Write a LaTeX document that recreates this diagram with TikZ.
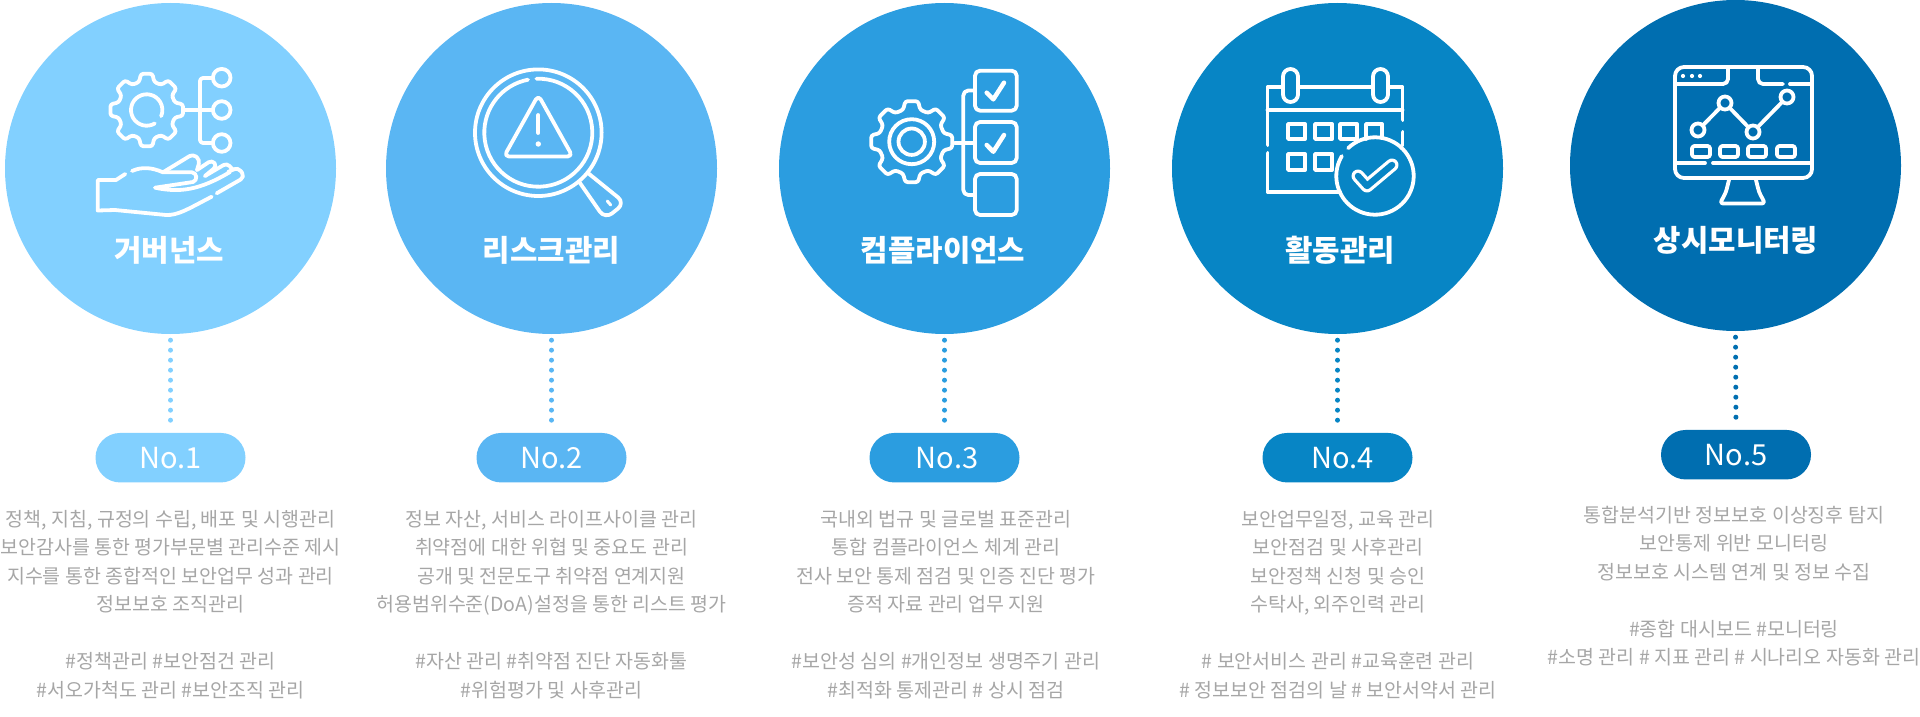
\documentclass[tikz,border=0pt]{standalone}
\usepackage{fontspec}
\setmainfont{Noto Sans CJK KR}
\usepackage{tikz}

\definecolor{colA}{HTML}{82D0FF}
\definecolor{colB}{HTML}{5AB6F3}
\definecolor{colC}{HTML}{2B9DE0}
\definecolor{colD}{HTML}{0785C5}
\definecolor{colE}{HTML}{006EB0}
\definecolor{bodygray}{HTML}{A6A6A6}

\tikzset{
	disc/.style={circle, fill=#1, minimum size=331pt, inner sep=0pt},
	pill/.style={fill=#1, rounded corners=24.7pt, minimum width=150pt, minimum height=49.5pt, inner sep=0pt, text=white, font=\fontsize{29}{34}\selectfont},
	heading/.style={text=white, font=\fontsize{29.8}{35}\selectfont\bfseries},
	body/.style={text=bodygray, align=center, font=\fontsize{19.5}{28.5}\selectfont},
	dots/.style={#1, line width=5pt, line cap=round, dash pattern=on 0pt off 10pt, shorten <=6pt, shorten >=11pt},
	icon/.style={white, line width=3.8pt, line cap=round, line join=round},
}

\newcommand{\gearshape}[2]{(-22.5:#2) foreach \a in {0,45,...,315} { -- (\a-15:#2) -- (\a-9:#1) -- (\a+9:#1) -- (\a+15:#2) } -- cycle}

\begin{document}
\begin{tikzpicture}[x=1pt, y=-1pt]
	\useasboundingbox (0,0) rectangle (1920,717);

	\node[disc=colA] (discA) at (170.5,168.5) {};
	\node[disc=colB] (discB) at (551.5,168.5) {};
	\node[disc=colC] (discC) at (944.5,168.5) {};
	\node[disc=colD] (discD) at (1337.5,168.5) {};
	\node[disc=colE] (discE) at (1735.5,165.5) {};

	\node[heading] (headA) at (169,250) {거버넌스};
	\node[heading] (headB) at (551.5,250) {리스크관리};
	\node[heading] (headC) at (943,250) {컴플라이언스};
	\node[heading] (headD) at (1340,250) {활동관리};
	\node[heading] (headE) at (1736,240) {상시모니터링};

	\node[pill=colA] (pillA) at (170.5,457.7) {No.1};
	\node[pill=colB] (pillB) at (551.5,457.7) {No.2};
	\node[pill=colC] (pillC) at (944.5,457.7) {\hspace{5pt}No.3};
	\node[pill=colD] (pillD) at (1337.5,457.7) {\hspace{10pt}No.4};
	\node[pill=colE] (pillE) at (1736,454.7) {No.5};

	\draw[dots=colA, shorten >=5pt] (discA.south) -- (pillA.north);
	\draw[dots=colB] (discB.south) -- (pillB.north);
	\draw[dots=colC] (discC.south) -- (pillC.north);
	\draw[dots=colD] (discD.south) -- (pillD.north);
	\draw[dots=colE] (discE.south) -- (pillE.north);

	\node[body] (textA) at (170.5,604.5) {정책, 지침, 규정의 수립, 배포 및 시행관리\\보안감사를 통한 평가부문별 관리수준 제시\\지수를 통한 종합적인 보안업무 성과 관리\\정보보호 조직관리\\[28.5pt]\#정책관리 \#보안점건 관리\\\#서오가척도 관리 \#보안조직 관리};
	\node[body] (textB) at (551.5,604.5) {정보 자산, 서비스 라이프사이클 관리\\취약점에 대한 위협 및 중요도 관리\\공개 및 전문도구 취약점 연계지원\\허용범위수준(DoA)설정을 통한 리스트 평가\\[28.5pt]\#자산 관리 \#취약점 진단 자동화툴\\\#위험평가 및 사후관리};
	\node[body] (textC) at (946,604.5) {국내외 법규 및 글로벌 표준관리\\통합 컴플라이언스 체계 관리\\전사 보안 통제 점검 및 인증 진단 평가\\증적 자료 관리 업무 지원\\[28.5pt]\#보안성 심의 \#개인정보 생명주기 관리\\\#최적화 통제관리 \# 상시 점검};
	\node[body] (textD) at (1338,604.5) {보안업무일정, 교육 관리\\보안점검 및 사후관리\\보안정책 신청 및 승인\\수탁사, 외주인력 관리\\[28.5pt]\# 보안서비스 관리 \#교육훈련 관리\\\# 정보보안 점검의 날 \# 보안서약서 관리};
	\node[body] (textE) at (1734,586) {통합분석기반 정보보호 이상징후 탐지\\보안통제 위반 모니터링\\정보보호 시스템 연계 및 정보 수집\\[28.5pt]\#종합 대시보드 \#모니터링\\\#소명 관리 \# 지표 관리 \# 시나리오 자동화 관리};

	% governance icon
	\draw[icon, rounded corners=2.5pt, shift={(146.7,110)}] \gearshape{36.7}{29};
	\draw[icon] (146.7,110) ++(59:15.7) arc (59:383:15.7);
	\draw[icon] (183,110) -- (213,110);
	\draw[icon, rounded corners=3pt] (213,78) -- (200,78) -- (200,143) -- (213,143);
	\draw[icon] (221.7,77.7) circle (8.8);
	\draw[icon] (221.7,110) circle (8.8);
	\draw[icon] (221.7,143) circle (8.8);
	\draw[icon] (125.3,174) -- (116,180) -- (97.7,180) -- (97.7,210.5) -- (115,210) -- (166,215) .. controls (178,215.5) and (188,209) .. (211.7,196.7);
	\draw[icon] (132,171) .. controls (142,166.5) and (152,167.5) .. (163,172.3) -- (192,172.3) .. controls (197,173) and (198,180) .. (193,182) -- (155,187.7) .. controls (180,193) and (200,190) .. (230,172);
	\draw[icon, rounded corners=4pt] (163,172.3) -- (193,154) -- (200,160) -- (197,170);
	\draw[icon, rounded corners=4pt] (197,170) -- (212,160) -- (217,166) -- (205,176);
	\draw[icon, rounded corners=4pt] (205,176) -- (227,163) -- (233,170);
	\draw[icon, rounded corners=5pt] (216.7,193.3) -- (245,177) -- (238,167) -- (228,172);

	% risk icon
	\draw[icon] (538.3,132.7) circle (63.3);
	\draw[icon] (538.3,132.7) ++(268:54) arc (268:619:54);
	\draw[icon, rounded corners=5pt] (538.3,95) -- (504,156.5) -- (572.6,156.5) -- cycle;
	\draw[icon] (538.3,115) -- (538.3,133);
	\fill[white] (538.3,144) circle (2.7);
	\draw[icon, rounded corners=9pt] (580,183) -- (605,219) -- (625,203) -- (588.3,173.3);
	\draw[icon, line width=3pt] (607.3,201) -- (610.7,205);

	% compliance icon
	\draw[icon, rounded corners=2.5pt, shift={(911.7,141.7)}] \gearshape{41}{33};
	\draw[icon] (911.7,141.7) circle (22.5);
	\draw[icon] (911.7,141.7) circle (13.2);
	\draw[icon] (955,143) -- (975,143);
	\draw[icon, rounded corners=5pt] (975,90.5) -- (963.3,90.5) -- (963.3,195) -- (975,195);
	\draw[icon, rounded corners=5pt] (975,70.7) rectangle (1016.7,110.7);
	\draw[icon, rounded corners=5pt] (975,122) rectangle (1016.7,163);
	\draw[icon, rounded corners=5pt] (975,174) rectangle (1016.7,215);
	\draw[icon, line width=4.5pt] (986.7,92.7) -- (993.3,99.3) -- (1004,82.7);
	\draw[icon, line width=4.5pt] (986.7,145) -- (993.3,151.7) -- (1004,135);

	% activity icon
	\draw[icon] (1283,87) -- (1267.5,87) -- (1267.5,145);
	\draw[icon] (1267.5,153) -- (1267.5,192) -- (1340,192);
	\draw[icon] (1298,87) -- (1373,87);
	\draw[icon] (1388,87) -- (1402.5,87) -- (1402.5,120);
	\draw[icon] (1402.5,132) -- (1402.5,145);
	\draw[icon] (1267.5,110) -- (1402.5,110);
	\draw[icon, rounded corners=7.5pt] (1283,69) rectangle (1298,102);
	\draw[icon, rounded corners=7.5pt] (1373,69) rectangle (1388,102);
	\draw[icon] (1288,124) rectangle (1305,139);
	\draw[icon] (1315,124) rectangle (1332,139);
	\draw[icon] (1340,124) rectangle (1357,139);
	\draw[icon] (1366,139) -- (1366,124) -- (1382,124) -- (1382,138);
	\draw[icon] (1288,154) rectangle (1305,170);
	\draw[icon] (1315,154) rectangle (1332,170);
	\draw[icon] (1375,176) ++(226:38.7) arc (226:571:38.7);
	\draw[icon, line width=13pt] (1358,176) -- (1367,186) -- (1392,165);
	\draw[colD, line width=6.5pt, line cap=round, line join=round] (1358,176) -- (1367,186) -- (1392,165);

	% monitoring icon
	\draw[icon, rounded corners=9pt] (1675,84) -- (1675,67) -- (1812,67) -- (1812,84);
	\draw[icon, rounded corners=9pt] (1675,84) -- (1675,178) -- (1812,178) -- (1812,84);
	\draw[icon, rounded corners=5pt] (1675,84) -- (1728,84) -- (1728,68);
	\draw[icon, rounded corners=5pt] (1758,68) -- (1758,84) -- (1783,84);
	\draw[icon] (1790,84) -- (1812,84);
	\fill[white] (1683,76) circle (2.1);
	\fill[white] (1692,76) circle (2.1);
	\fill[white] (1700,76) circle (2.1);
	\draw[icon] (1698,130) circle (6.5);
	\draw[icon] (1725,103) circle (6.5);
	\draw[icon] (1753,132) circle (6.5);
	\draw[icon] (1787,97) circle (6.5);
	\draw[icon] (1702.7,125.5) -- (1720.3,107.5);
	\draw[icon] (1729.5,107.7) -- (1748.5,127.3);
	\draw[icon] (1757.5,127.3) -- (1782.5,101.7);
	\draw[icon, rounded corners=2.5pt] (1692,146) rectangle (1710,157);
	\draw[icon, rounded corners=2.5pt] (1720,146) rectangle (1738,157);
	\draw[icon, rounded corners=2.5pt] (1748,146) rectangle (1766,157);
	\draw[icon, rounded corners=2.5pt] (1777,146) rectangle (1795,157);
	\draw[icon] (1675,163) -- (1705,163);
	\draw[icon] (1713,163) -- (1812,163);
	\draw[icon, rounded corners=3pt] (1729,180) -- (1726,192) -- (1720,203.5) -- (1765,203.5) -- (1759,192) -- (1756,180);
\end{tikzpicture}
\end{document}
